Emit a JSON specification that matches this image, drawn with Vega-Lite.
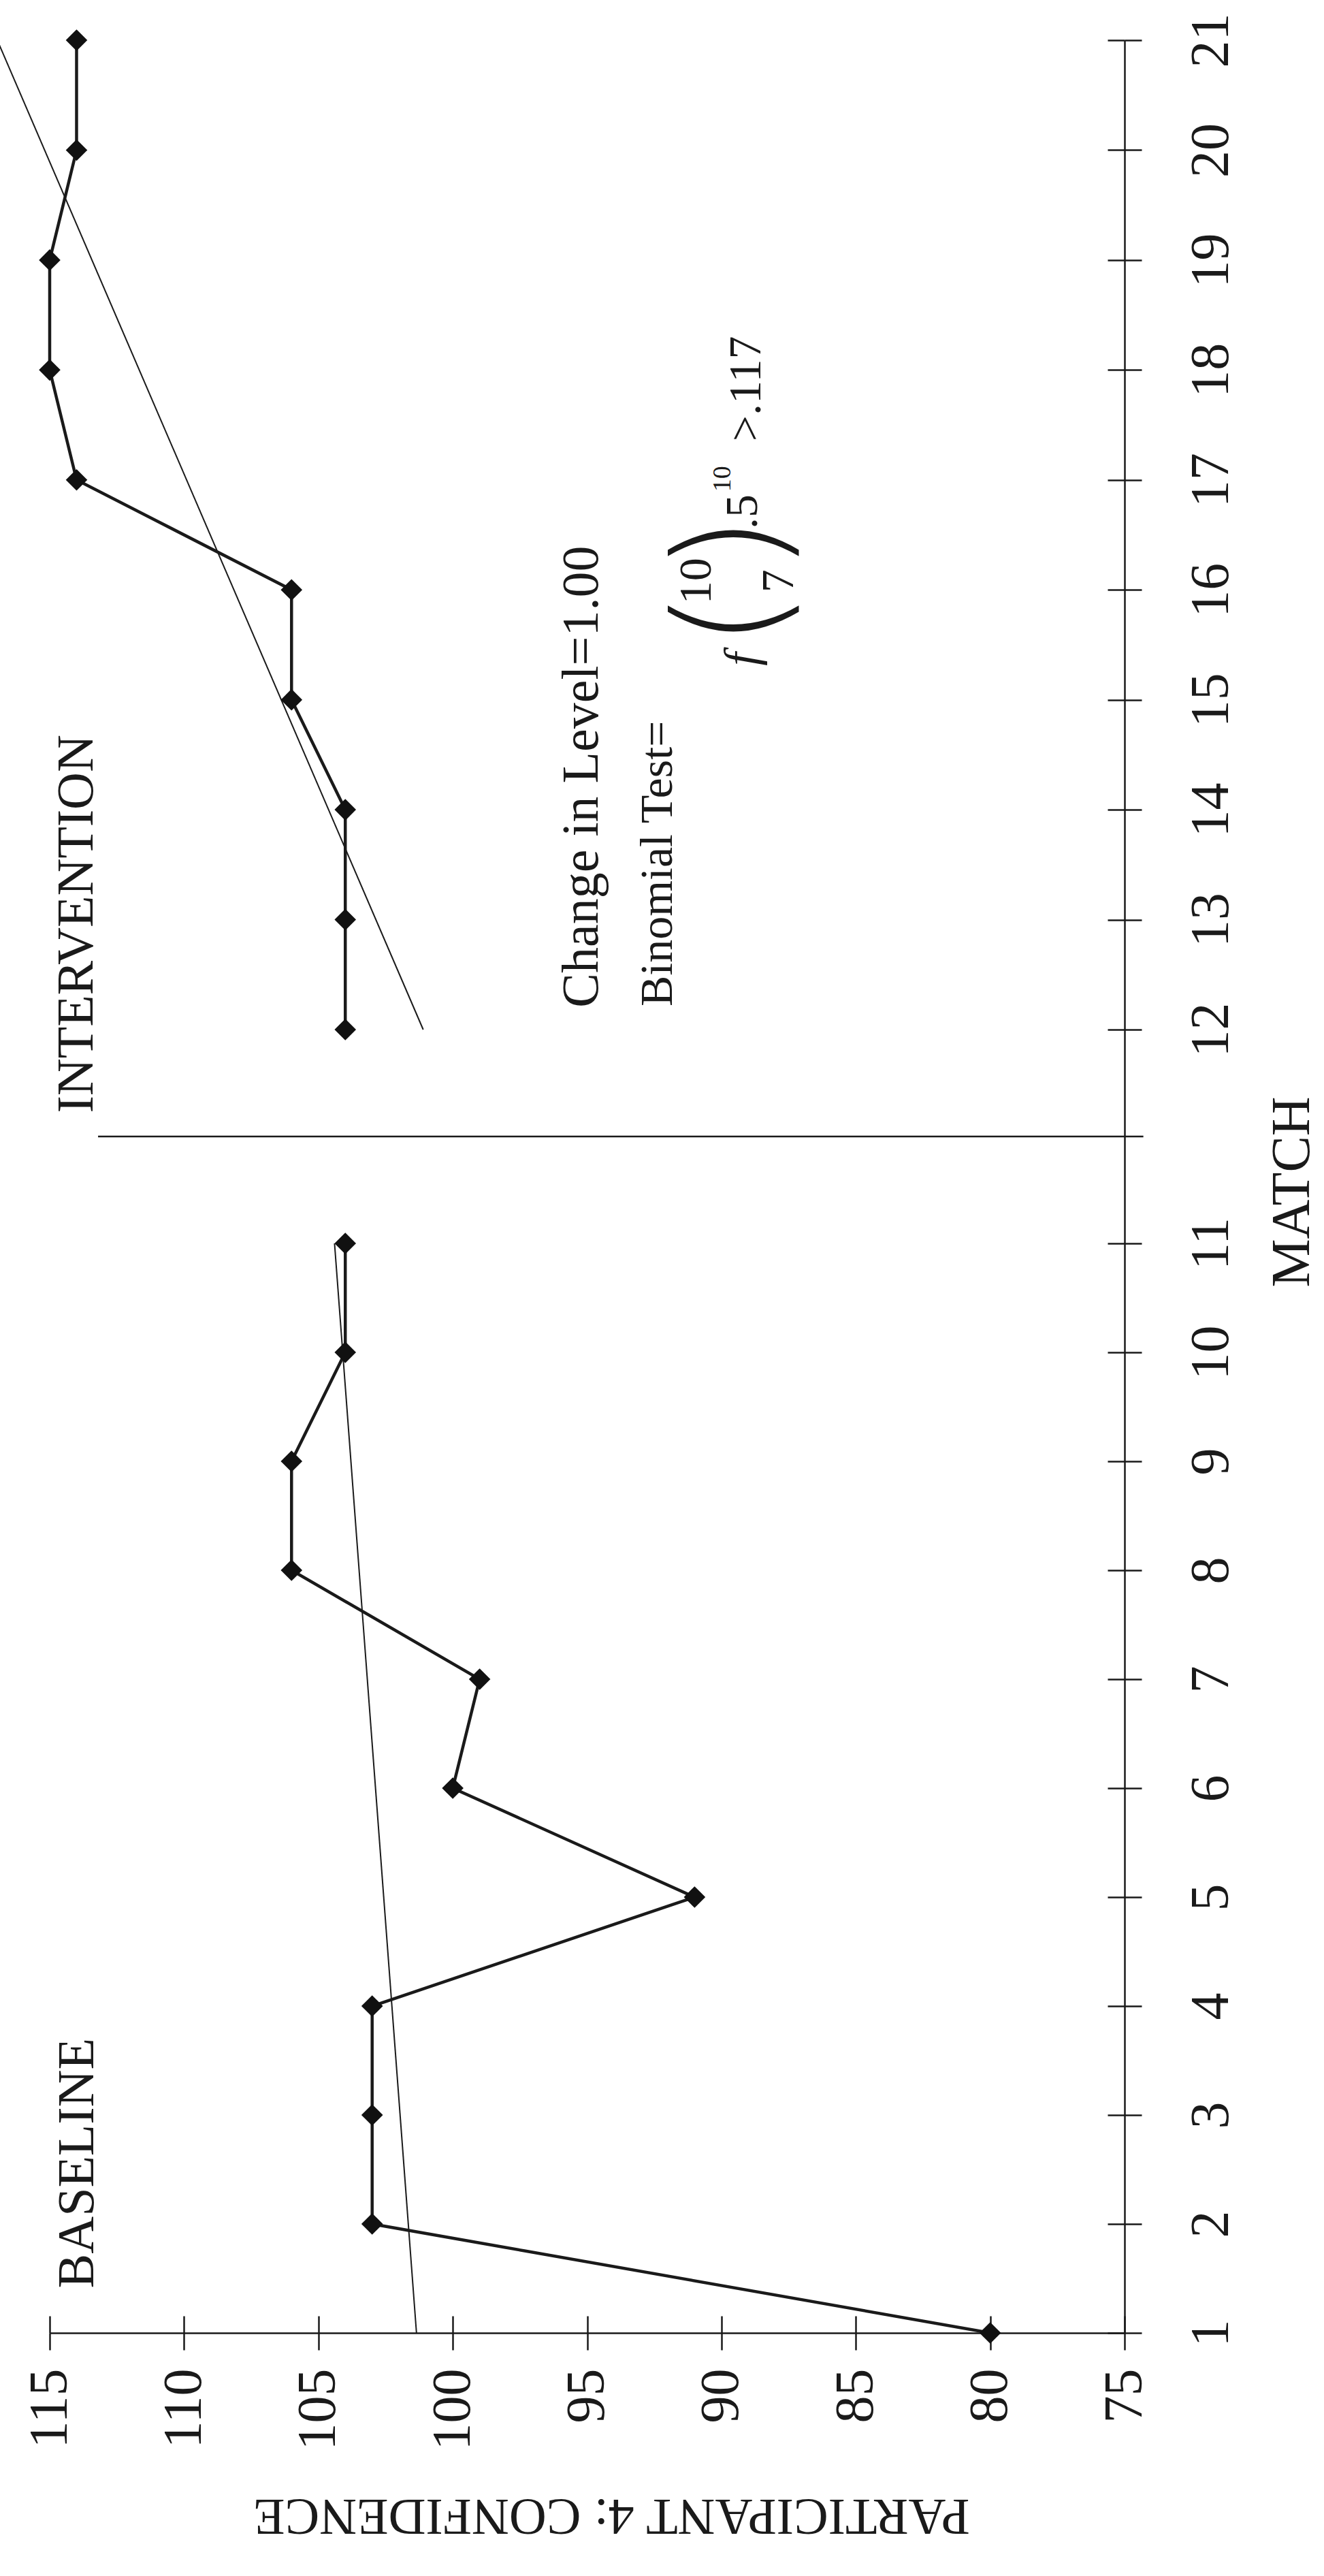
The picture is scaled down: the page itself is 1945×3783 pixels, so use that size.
{
  "$schema": "https://vega.github.io/schema/vega-lite/v6.json",
  "width": 1579,
  "height": 3367,
  "autosize": {"type": "none"},
  "padding": {"left": 73, "top": 59, "right": 293, "bottom": 357},
  "background": "white",
  "config": {"view": {"stroke": null}, "font": "Liberation Serif"},
  "datasets": {
    "scores": [
      {"phase": "Baseline", "match": 1, "confidence": 80},
      {"phase": "Baseline", "match": 2, "confidence": 103},
      {"phase": "Baseline", "match": 3, "confidence": 103},
      {"phase": "Baseline", "match": 4, "confidence": 103},
      {"phase": "Baseline", "match": 5, "confidence": 91},
      {"phase": "Baseline", "match": 6, "confidence": 100},
      {"phase": "Baseline", "match": 7, "confidence": 99},
      {"phase": "Baseline", "match": 8, "confidence": 106},
      {"phase": "Baseline", "match": 9, "confidence": 106},
      {"phase": "Baseline", "match": 10, "confidence": 104},
      {"phase": "Baseline", "match": 11, "confidence": 104},
      {"phase": "Intervention", "match": 12, "confidence": 104},
      {"phase": "Intervention", "match": 13, "confidence": 104},
      {"phase": "Intervention", "match": 14, "confidence": 104},
      {"phase": "Intervention", "match": 15, "confidence": 106},
      {"phase": "Intervention", "match": 16, "confidence": 106},
      {"phase": "Intervention", "match": 17, "confidence": 114},
      {"phase": "Intervention", "match": 18, "confidence": 115},
      {"phase": "Intervention", "match": 19, "confidence": 115},
      {"phase": "Intervention", "match": 20, "confidence": 114},
      {"phase": "Intervention", "match": 21, "confidence": 114}
    ],
    "trend": [
      {"phase": "Baseline", "match": 1, "confidence": 101.35},
      {"phase": "Baseline", "match": 11, "confidence": 104.4},
      {"phase": "Intervention", "match": 12, "confidence": 101.1},
      {"phase": "Intervention", "match": 21, "confidence": 116.95}
    ],
    "phase_change": [
      {"match": 11.5, "confidence": 113.2, "confidence_end": 74.3}
    ],
    "labels_large": [
      {"text": "BASELINE", "match": 1.41, "confidence": 113.38},
      {"text": "INTERVENTION", "match": 11.61, "confidence": 113.4},
      {"text": "Change in Level=1.00", "match": 12.2, "confidence": 94.6}
    ],
    "labels_mid_left": [
      {"text": "Binomial Test=", "match": 12.21, "confidence": 91.84},
      {"text": ">.117", "match": 17.35, "confidence": 88.55}
    ],
    "labels_mid_center": [
      {"text": "10", "match": 16.08, "confidence": 90.4},
      {"text": "7", "match": 16.08, "confidence": 87.33},
      {"text": ".5", "match": 16.71, "confidence": 88.68}
    ],
    "labels_italic": [
      {"text": "f", "match": 15.37, "confidence": 88.68}
    ],
    "labels_paren": [
      {"text": "(", "match": 15.735, "confidence": 89.49},
      {"text": ")", "match": 16.42, "confidence": 89.49}
    ],
    "labels_sup": [
      {"text": "10", "match": 17.01, "confidence": 89.66}
    ]
  },
  "layer": [
    {
      "data": {"name": "phase_change"},
      "mark": {"type": "rule", "color": "#1a1a1a", "strokeWidth": 2.5},
      "encoding": {
        "y": {"field": "match", "type": "quantitative", "scale": {"type": "linear", "domain": [1, 11, 12, 21], "range": [3367, 1767, 1453, 0], "nice": false, "zero": false}, "axis": null},
        "x": {"field": "confidence", "type": "quantitative", "scale": {"type": "linear", "domain": [75, 115], "reverse": true, "nice": false, "zero": false}, "axis": null},
        "x2": {"field": "confidence_end"}
      }
    },
    {
      "data": {"name": "trend"},
      "mark": {"type": "line", "color": "#1a1a1a", "strokeWidth": 2},
      "encoding": {
        "y": {"field": "match", "type": "quantitative", "axis": null},
        "x": {"field": "confidence", "type": "quantitative", "axis": null},
        "detail": {"field": "phase"},
        "order": {"field": "match", "type": "quantitative"}
      }
    },
    {
      "data": {"name": "scores"},
      "mark": {"type": "line", "color": "#1a1a1a", "strokeWidth": 4.5},
      "encoding": {
        "y": {
          "field": "match", "type": "quantitative",
          "axis": {
            "orient": "right",
            "values": [1, 2, 3, 4, 5, 6, 7, 8, 9, 10, 11, 12, 13, 14, 15, 16, 17, 18, 19, 20, 21],
            "labelAngle": 270, "labelAlign": "center", "labelBaseline": "alphabetic",
            "labelPadding": 126, "labelFontSize": 80, "labelFont": "Liberation Serif", "labelColor": "#1a1a1a",
            "labelOverlap": false, "labelFlush": false,
            "tickSize": 25, "tickWidth": 2.5, "tickColor": "#1a1a1a",
            "domainColor": "#1a1a1a", "domainWidth": 2.5, "grid": false,
            "title": "MATCH", "titleFont": "Liberation Serif", "titleFontSize": 80, "titleFontWeight": "normal",
            "titleColor": "#1a1a1a", "titleAngle": 270, "titleAlign": "center", "titleBaseline": "alphabetic",
            "titleX": 270, "titleY": 1691
          }
        },
        "x": {
          "field": "confidence", "type": "quantitative",
          "axis": {
            "orient": "bottom",
            "values": [115, 110, 105, 100, 95, 90, 85, 80, 75],
            "labelAngle": 270, "labelAlign": "right", "labelBaseline": "middle",
            "labelPadding": 27, "labelFontSize": 80, "labelFont": "Liberation Serif", "labelColor": "#1a1a1a",
            "labelOverlap": false, "labelFlush": false,
            "tickSize": 25, "tickWidth": 2.5, "tickColor": "#1a1a1a",
            "domainColor": "#1a1a1a", "domainWidth": 2.5, "grid": false,
            "title": "PARTICIPANT 4: CONFIDENCE", "titleFont": "Liberation Serif", "titleFontSize": 76, "titleFontWeight": "normal",
            "titleColor": "#1a1a1a", "titleAngle": 180, "titleAlign": "center", "titleBaseline": "alphabetic",
            "titleX": 825, "titleY": 244
          }
        },
        "detail": {"field": "phase"},
        "order": {"field": "match", "type": "quantitative"}
      }
    },
    {
      "data": {"name": "scores"},
      "mark": {"type": "point", "shape": "diamond", "filled": true, "color": "#111111", "opacity": 1, "size": 1000},
      "encoding": {
        "y": {
          "field": "match", "type": "quantitative",
          "axis": {
            "orient": "right",
            "values": [1, 2, 3, 4, 5, 6, 7, 8, 9, 10, 11, 12, 13, 14, 15, 16, 17, 18, 19, 20, 21],
            "labels": false, "domain": false, "grid": false, "title": null,
            "tickSize": -25, "tickWidth": 2.5, "tickColor": "#1a1a1a"
          }
        },
        "x": {
          "field": "confidence", "type": "quantitative",
          "axis": {
            "orient": "bottom",
            "values": [115, 110, 105, 100, 95, 90, 85, 80, 75],
            "labels": false, "domain": false, "grid": false, "title": null,
            "tickSize": -25, "tickWidth": 2.5, "tickColor": "#1a1a1a"
          }
        }
      }
    },
    {
      "data": {"name": "labels_large"},
      "mark": {"type": "text", "angle": 270, "align": "left", "baseline": "alphabetic", "fontSize": 76, "font": "Liberation Serif", "color": "#1a1a1a"},
      "encoding": {
        "y": {"field": "match", "type": "quantitative", "axis": null},
        "x": {"field": "confidence", "type": "quantitative", "axis": null},
        "text": {"field": "text"}
      }
    },
    {
      "data": {"name": "labels_mid_left"},
      "mark": {"type": "text", "angle": 270, "align": "left", "baseline": "alphabetic", "fontSize": 68, "font": "Liberation Serif", "color": "#1a1a1a"},
      "encoding": {
        "y": {"field": "match", "type": "quantitative", "axis": null},
        "x": {"field": "confidence", "type": "quantitative", "axis": null},
        "text": {"field": "text"}
      }
    },
    {
      "data": {"name": "labels_mid_center"},
      "mark": {"type": "text", "angle": 270, "align": "center", "baseline": "alphabetic", "fontSize": 68, "font": "Liberation Serif", "color": "#1a1a1a"},
      "encoding": {
        "y": {"field": "match", "type": "quantitative", "axis": null},
        "x": {"field": "confidence", "type": "quantitative", "axis": null},
        "text": {"field": "text"}
      }
    },
    {
      "data": {"name": "labels_italic"},
      "mark": {"type": "text", "angle": 270, "align": "center", "baseline": "alphabetic", "fontSize": 70, "fontStyle": "italic", "font": "Liberation Serif", "color": "#1a1a1a"},
      "encoding": {
        "y": {"field": "match", "type": "quantitative", "axis": null},
        "x": {"field": "confidence", "type": "quantitative", "axis": null},
        "text": {"field": "text"}
      }
    },
    {
      "data": {"name": "labels_paren"},
      "mark": {"type": "text", "angle": 270, "align": "center", "baseline": "middle", "fontSize": 215, "fontWeight": 200, "font": "DejaVu Sans", "color": "#1a1a1a"},
      "encoding": {
        "y": {"field": "match", "type": "quantitative", "axis": null},
        "x": {"field": "confidence", "type": "quantitative", "axis": null},
        "text": {"field": "text"}
      }
    },
    {
      "data": {"name": "labels_sup"},
      "mark": {"type": "text", "angle": 270, "align": "center", "baseline": "alphabetic", "fontSize": 38, "font": "Liberation Serif", "color": "#1a1a1a"},
      "encoding": {
        "y": {"field": "match", "type": "quantitative", "axis": null},
        "x": {"field": "confidence", "type": "quantitative", "axis": null},
        "text": {"field": "text"}
      }
    }
  ],
  "resolve": {"axis": {"x": "independent", "y": "independent"}}
}
